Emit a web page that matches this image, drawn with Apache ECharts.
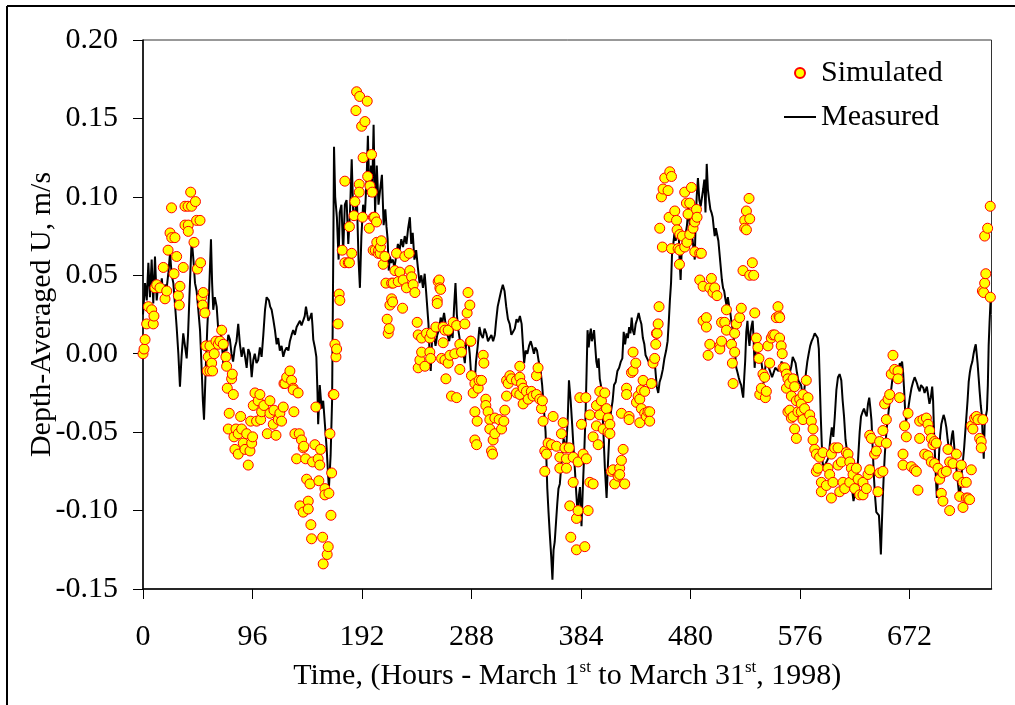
<!DOCTYPE html>
<html><head><meta charset="utf-8">
<script src="https://cdn.jsdelivr.net/npm/echarts@6/dist/echarts.min.js"></script>
<style>html,body{margin:0;padding:0;background:#fff}#c{width:1015px;height:705px}</style>
</head><body><div id="c"></div>
<script>
const xTicks = [0, 96, 192, 288, 384, 480, 576, 672];
const yRange = [-0.15, 0.20];
const xRange = [0, 744];

// Measured depth-averaged U [hour, m/s]
const measured = [
[0,0.025],[1.8,0.045],[3.3,0.034],[4.7,0.058],[6.1,0.036],[7.6,0.060],[9.0,0.032],[10.5,0.062],[12.0,0.034],[13.5,0.045],
[14.9,0.040],[16.5,0.048],[17.8,0.036],[19.3,0.044],[20.8,0.042],[22.3,0.052],[23.7,0.064],[25.2,0.050],[26.6,0.045],[28.0,0.032],
[29.5,0.017],[31.0,0.000],[32.4,-0.021],[33.8,-0.002],[35.3,0.013],[36.8,0.005],[38.3,-0.003],[39.5,0.012],[40.6,0.034],[41.7,0.055],
[42.7,0.073],[44.2,0.060],[45.6,0.045],[47.0,0.040],[48.5,0.028],[50.0,0.015],[51.4,-0.009],[52.5,-0.030],[53.5,-0.042],[55.0,-0.010],
[56.4,0.017],[58.0,0.040],[59.6,0.073],[60.6,0.045],[61.6,0.028],[63.0,0.036],[64.6,0.030],[66.0,0.015],[67.5,0.018],[69.0,0.008],
[70.4,-0.006],[71.8,0.004],[73.3,0.002],[74.8,0.012],[76.2,0.009],[77.6,0.000],[79.0,-0.005],[80.5,0.004],[82.0,0.008],[83.5,0.019],
[85.0,0.006],[86.5,-0.002],[88.0,0.004],[89.5,-0.002],[90.9,-0.009],[92.3,0.003],[93.8,0.000],[95.3,-0.015],[96.7,-0.004],[98.0,0.000],
[99.5,-0.006],[101.0,-0.004],[102.5,0.004],[104.0,-0.002],[105.5,0.012],[107.0,0.028],[108.4,0.036],[110.4,0.034],[111.5,0.030],[112.8,0.028],
[114.2,0.022],[115.7,0.015],[117.2,0.006],[118.5,0.010],[120.0,0.002],[121.5,0.005],[123.0,-0.002],[124.5,0.002],[126.0,0.004],[127.5,0.002],
[128.8,0.008],[130.3,0.012],[131.7,0.015],[133.2,0.012],[134.7,0.017],[136.2,0.016],[137.6,0.021],[139.0,0.018],[140.5,0.019],[141.8,0.024],
[142.9,0.030],[144.0,0.025],[145.0,0.021],[146.5,0.023],[147.8,0.026],[148.6,0.018],[149.3,0.009],[150.7,0.004],[152.0,-0.002],[153.0,-0.025],
[153.6,-0.045],[155.0,-0.020],[156.6,-0.035],[158.0,-0.030],[159.5,-0.045],[161.0,-0.060],[163.0,-0.086],[164.5,-0.065],[165.8,-0.030],[166.8,0.060],
[167.5,0.132],[168.5,0.100],[170.0,0.087],[171.5,0.060],[172.5,0.090],[174.0,0.095],[175.5,0.065],[177.0,0.095],[178.5,0.098],[180.0,0.070],
[181.5,0.090],[183.0,0.124],[184.5,0.085],[186.0,0.090],[187.5,0.100],[189.0,0.060],[190.2,0.042],[191.5,0.075],[193.0,0.095],[194.5,0.088],
[196.0,0.110],[197.2,0.139],[198.5,0.100],[200.0,0.120],[201.0,0.105],[202.2,0.146],[203.5,0.090],[205.0,0.120],[206.5,0.095],[208.0,0.105],
[209.5,0.114],[211.0,0.082],[212.5,0.092],[213.5,0.081],[214.5,0.073],[215.5,0.053],[216.5,0.062],[217.5,0.058],[219.0,0.060],[220.5,0.055],
[222.0,0.062],[223.5,0.070],[225.0,0.066],[226.5,0.073],[228.0,0.068],[229.5,0.075],[231.0,0.070],[232.5,0.080],[234.0,0.087],[235.2,0.070],
[236.5,0.077],[238.0,0.060],[239.5,0.066],[241.0,0.055],[242.5,0.045],[244.0,0.050],[245.5,0.042],[247.0,0.051],[248.2,0.040],[249.2,0.030],
[250.3,0.019],[251.3,0.000],[252.3,-0.011],[253.5,0.010],[255.0,0.012],[256.5,0.005],[258.0,0.012],[259.5,0.015],[261.0,0.023],[262.5,0.020],
[264.0,0.026],[265.5,0.018],[267.0,0.012],[268.5,0.008],[270.0,0.015],[271.5,0.010],[272.8,0.030],[274.0,0.045],[275.2,0.025],[276.5,0.015],
[278.0,0.008],[279.5,0.005],[281.0,0.000],[282.2,-0.006],[283.5,0.008],[285.0,0.010],[286.5,0.000],[287.5,-0.011],[289.0,-0.015],[290.5,-0.022],
[292.0,-0.005],[293.5,0.005],[295.0,0.017],[296.5,0.012],[298.0,0.010],[299.5,0.016],[301.0,0.013],[302.5,0.008],[304.0,0.010],[305.5,0.012],
[307.0,0.008],[308.5,0.012],[309.5,0.020],[311.0,0.030],[312.5,0.035],[314.0,0.040],[315.5,0.044],[317.0,0.040],[318.5,0.030],[320.0,0.022],
[321.5,0.019],[323.0,0.012],[324.5,0.014],[326.0,0.016],[327.5,0.022],[329.0,0.020],[330.5,0.024],[332.0,0.019],[333.2,0.005],[334.2,-0.006],
[335.5,0.002],[337.0,0.000],[338.5,0.005],[340.0,0.008],[341.5,0.004],[342.8,0.000],[344.0,0.004],[345.5,0.002],[347.0,-0.005],[348.5,-0.010],
[350.0,-0.020],[350.8,-0.028],[352.0,-0.040],[353.0,-0.050],[354.5,-0.086],[355.5,-0.100],[356.7,-0.115],[358.0,-0.130],[359.0,-0.144],[360.0,-0.125],
[361.0,-0.120],[362.2,-0.107],[363.3,-0.095],[364.3,-0.086],[365.5,-0.083],[366.6,-0.082],[368.0,-0.060],[368.8,-0.054],[370.0,-0.058],[371.0,-0.062],
[372.5,-0.040],[373.5,-0.017],[375.0,-0.030],[376.3,-0.045],[377.5,-0.060],[378.8,-0.075],[380.0,-0.090],[381.2,-0.103],[382.3,-0.090],[383.2,-0.085],
[384.5,-0.110],[385.7,-0.085],[386.8,-0.065],[388.0,-0.040],[389.0,-0.010],[389.8,0.015],[390.8,0.004],[391.8,0.012],[392.7,0.016],[393.5,0.008],
[394.3,0.010],[395.5,0.015],[396.5,0.005],[397.5,-0.005],[398.5,-0.009],[399.5,-0.003],[400.5,-0.016],[401.5,-0.020],[402.5,-0.030],[403.7,-0.050],
[405.0,-0.073],[406.5,-0.092],[407.7,-0.070],[409.0,-0.050],[410.3,-0.037],[411.8,-0.030],[413.0,-0.020],[414.5,-0.018],[416.0,-0.011],[417.5,-0.009],
[419.0,-0.005],[420.3,-0.003],[421.5,0.014],[422.7,0.006],[424.0,0.013],[425.2,0.010],[426.3,0.017],[427.4,0.013],[428.5,0.023],[429.5,0.015],
[430.7,0.012],[432.0,0.019],[433.3,0.022],[434.6,0.026],[435.8,0.022],[437.0,0.019],[438.3,0.010],[439.6,0.006],[440.7,-0.001],[442.0,-0.003],
[443.3,-0.005],[444.6,-0.004],[446.0,-0.006],[447.5,-0.005],[449.0,-0.008],[450.5,-0.021],[451.8,-0.025],[453.0,-0.018],[454.3,-0.015],[455.8,-0.010],
[457.2,-0.003],[458.7,0.002],[460.0,0.008],[461.0,0.020],[462.0,0.034],[463.0,0.045],[464.0,0.066],[465.0,0.070],[466.0,0.077],[467.0,0.072],
[468.0,0.075],[469.3,0.087],[470.5,0.060],[471.4,0.047],[472.3,0.065],[473.3,0.072],[474.5,0.068],[475.6,0.075],[477.0,0.082],[478.3,0.094],
[479.6,0.080],[480.8,0.077],[482.0,0.072],[483.0,0.065],[483.8,0.060],[484.6,0.085],[485.5,0.100],[486.6,0.112],[487.8,0.098],[489.0,0.094],
[490.0,0.095],[491.2,0.105],[492.2,0.111],[493.2,0.090],[494.3,0.121],[495.3,0.105],[496.4,0.098],[497.5,0.092],[498.5,0.090],[499.5,0.087],
[500.5,0.080],[501.3,0.075],[502.3,0.080],[503.4,0.081],[504.5,0.072],[505.5,0.064],[506.6,0.055],[507.6,0.047],[508.6,0.042],[509.6,0.040],
[510.6,0.035],[511.6,0.031],[512.8,0.036],[514.0,0.030],[515.0,0.026],[516.0,0.020],[517.2,0.015],[518.2,0.008],[519.2,0.000],[520.2,-0.009],
[521.3,-0.012],[522.3,-0.015],[523.4,-0.018],[524.5,-0.020],[525.5,-0.025],[526.3,-0.028],[527.2,-0.015],[528.0,-0.005],[529.0,0.014],[530.0,0.021],
[531.0,0.010],[531.8,0.005],[532.8,0.014],[533.7,0.018],[534.6,0.021],[535.5,0.008],[536.3,-0.009],[537.2,0.000],[538.0,0.005],[539.0,0.002],
[540.0,-0.002],[541.2,-0.004],[542.4,-0.006],[543.4,-0.012],[544.3,-0.019],[545.2,-0.012],[546.2,-0.005],[547.4,-0.006],[548.8,-0.009],[550.2,-0.010],
[551.6,-0.015],[553.0,-0.012],[554.4,-0.009],[555.8,-0.008],[557.2,-0.011],[558.6,-0.009],[560.0,-0.005],[561.3,-0.008],[562.5,-0.012],[563.6,-0.016],
[564.8,-0.020],[566.0,-0.015],[567.2,-0.012],[568.5,-0.008],[569.7,-0.002],[571.0,-0.003],[572.2,-0.006],[573.4,-0.012],[574.6,-0.017],[575.8,-0.018],
[577.0,-0.020],[578.2,-0.025],[579.3,-0.027],[580.3,-0.020],[581.3,-0.012],[582.5,-0.005],[583.7,0.000],[585.0,0.005],[586.3,0.008],[587.5,0.010],
[589.0,0.013],[590.5,0.0135],[591.6,0.010],[592.6,0.003],[593.5,-0.020],[594.3,-0.040],[595.2,-0.058],[596.0,-0.070],[597.2,-0.072],[598.5,-0.071],
[600.0,-0.068],[601.2,-0.066],[602.6,-0.055],[604.0,-0.047],[605.3,-0.053],[606.6,-0.040],[608.0,-0.023],[609.4,-0.015],[610.8,-0.013],[612.3,-0.017],
[613.5,-0.030],[614.7,-0.040],[616.0,-0.055],[617.3,-0.062],[618.6,-0.070],[620.0,-0.077],[621.5,-0.085],[623.0,-0.094],[624.5,-0.088],[626.0,-0.080],
[627.2,-0.065],[628.4,-0.050],[629.6,-0.040],[631.0,-0.037],[632.2,-0.035],[633.4,-0.038],[634.6,-0.040],[635.7,-0.032],[636.8,-0.028],[637.8,-0.035],
[638.8,-0.043],[639.8,-0.060],[640.8,-0.077],[641.8,-0.090],[643.0,-0.101],[644.2,-0.100],[645.3,-0.103],[646.2,-0.115],[647.0,-0.128],[647.8,-0.110],
[648.6,-0.093],[649.5,-0.078],[650.4,-0.065],[651.3,-0.055],[652.2,-0.047],[653.3,-0.040],[654.5,-0.032],[655.7,-0.025],[657.0,-0.017],[658.3,-0.013],
[659.5,-0.011],[660.6,-0.015],[661.6,-0.017],[662.6,-0.010],[663.6,-0.006],[664.6,-0.008],[665.6,-0.005],[666.5,-0.012],[667.3,-0.022],[668.2,-0.035],
[669.1,-0.043],[670.0,-0.040],[671.0,-0.035],[672.4,-0.028],[673.8,-0.022],[675.2,-0.018],[676.6,-0.015],[677.7,-0.017],[678.7,-0.019],[679.8,-0.022],
[681.0,-0.024],[682.2,-0.020],[683.3,-0.019],[684.3,-0.022],[685.3,-0.025],[686.3,-0.023],[687.3,-0.021],[688.4,-0.026],[689.6,-0.032],[690.8,-0.028],
[692.0,-0.021],[692.8,-0.030],[693.6,-0.050],[694.4,-0.064],[695.3,-0.080],[696.1,-0.092],[697.0,-0.080],[698.0,-0.064],[699.0,-0.052],[700.0,-0.045],
[701.0,-0.042],[702.0,-0.039],[703.2,-0.042],[704.4,-0.047],[705.6,-0.055],[706.6,-0.060],[707.4,-0.064],[708.4,-0.058],[709.3,-0.052],[710.2,-0.049],
[711.2,-0.058],[712.2,-0.068],[713.2,-0.073],[714.2,-0.080],[715.2,-0.087],[716.0,-0.092],[717.0,-0.085],[718.0,-0.075],[719.0,-0.068],[720.0,-0.060],
[721.0,-0.050],[722.0,-0.040],[723.0,-0.030],[724.0,-0.018],[725.0,-0.012],[726.0,-0.008],[727.2,-0.005],[728.3,0.000],[729.4,0.004],[730.2,0.006],
[731.0,0.000],[731.8,-0.006],[732.7,-0.015],[733.6,-0.024],[734.6,-0.033],[735.5,-0.039],[736.4,-0.055],[737.2,-0.067],[738.0,-0.045],[739.0,-0.040],
[740.0,-0.036],[740.8,-0.020],[741.5,0.005],[742.3,0.020],[743.2,0.034],[744.0,0.035]
];

// Simulated depth-averaged U [hour, m/s]
const simulated = [
[0,0.000],[0.9,0.003],[1.8,0.009],[3.2,0.019],[4.7,0.030],[7.6,0.028],[9.0,0.019],[9.6,0.024],[10.5,0.042],[12,0.044],
[14.9,0.042],[17.8,0.055],[19.3,0.035],[20.8,0.040],[22,0.066],[23.7,0.077],[25,0.093],[25.2,0.074],[27.2,0.051],[28,0.074],
[29.5,0.062],[31,0.037],[31.8,0.031],[32.4,0.043],[35.3,0.055],[36.8,0.094],[36.8,0.082],[39.5,0.094],[39.7,0.082],[39.7,0.078],
[41.8,0.103],[42.6,0.094],[44.7,0.071],[46,0.097],[47,0.085],[47.6,0.054],[50,0.085],[50.5,0.058],[51.4,0.036],[52.3,0.031],
[52.8,0.039],[54.3,0.026],[55.2,0.005],[56.4,-0.011],[57.2,-0.002],[58.7,0.005],[58.7,-0.011],[60.2,-0.006],[61,-0.011],[62.5,0.000],
[64,0.008],[66,0.006],[67.5,0.008],[69,0.015],[70.4,0.006],[72.7,-0.002],[73.3,-0.008],[73.9,-0.022],[74.8,-0.048],[75.6,-0.038],
[77.7,-0.016],[78.3,-0.013],[79.2,-0.026],[79.8,-0.053],[80.6,-0.061],[81.5,-0.048],[83.5,-0.051],[83.5,-0.064],[85.6,-0.040],[86.5,-0.048],
[87.9,-0.057],[89.4,-0.061],[90.9,-0.051],[92.3,-0.071],[93.8,-0.062],[94.4,-0.043],[95.3,-0.057],[96.1,-0.053],[96.7,-0.033],[98.2,-0.025],
[99.6,-0.043],[101,-0.030],[102.5,-0.026],[103.2,-0.042],[104,-0.037],[106,-0.033],[109,-0.051],[111.3,-0.030],[111.3,-0.038],[114.2,-0.045],
[114.8,-0.036],[116.6,-0.052],[118.6,-0.042],[120,-0.038],[121.5,-0.043],[123,-0.034],[123.6,-0.019],[124.5,-0.019],[126,-0.015],[128.8,-0.011],
[130.3,-0.017],[131.7,-0.022],[131.7,-0.023],[132.3,-0.037],[133.2,-0.051],[134.7,-0.067],[136,-0.025],[137,-0.051],[137.6,-0.097],[139,-0.055],
[140.5,-0.060],[140.5,-0.101],[141,-0.059],[142.6,-0.067],[143.5,-0.080],[144.9,-0.094],[144.9,-0.099],[146.4,-0.083],[147.2,-0.109],[147.8,-0.118],
[148.7,-0.069],[150.7,-0.058],[151.6,-0.034],[153.6,-0.067],[154.2,-0.081],[155,-0.071],[155.7,-0.061],[157.5,-0.117],[158,-0.134],[159.5,-0.086],
[159.5,-0.090],[161.5,-0.128],[162.4,-0.123],[163,-0.089],[163.9,-0.051],[164.8,-0.103],[165.4,-0.076],[166.8,-0.026],[167.4,-0.026],[168.3,0.006],
[169.2,-0.002],[169.8,0.003],[171,0.019],[172,0.038],[172.6,0.034],[174.7,0.066],[177,0.058],[177,0.110],[180,0.058],[181,0.058],
[181,0.081],[183,0.064],[185,0.088],[185.8,0.097],[186.7,0.155],[187.3,0.167],[189.6,0.108],[189.6,0.103],[190,0.164],[191.7,0.145],
[192.5,0.087],[193,0.125],[194.6,0.148],[196.6,0.161],[197,0.113],[198.4,0.080],[199,0.107],[200.4,0.127],[201,0.103],[201.8,0.066],
[202,0.087],[203,0.087],[203.6,0.066],[204.8,0.084],[205,0.071],[206.2,0.064],[206.6,0.066],[208,0.064],[208.2,0.068],[209,0.072],
[210.6,0.057],[212.1,0.062],[213,0.045],[214.1,0.022],[215,0.013],[215.9,0.016],[216.5,0.031],[218,0.045],[218,0.035],[218.9,0.033],
[219.4,0.045],[220.9,0.053],[222.3,0.064],[223.8,0.046],[225.2,0.052],[227.6,0.029],[228.1,0.047],[229.6,0.062],[231,0.042],[233.4,0.064],
[234,0.053],[235.5,0.049],[236.9,0.044],[238.4,0.039],[240.4,0.020],[241.3,0.012],[241.3,-0.009],[242.8,-0.004],[244.3,0.010],[244.3,0.001],
[247.2,-0.008],[248.6,0.013],[251.5,0.010],[251.5,0.001],[252.2,-0.003],[253,0.013],[256.8,0.017],[258,0.034],[258,0.032],[258.8,0.046],
[259.7,0.047],[260.3,0.042],[261,0.041],[261.8,-0.003],[263.2,0.017],[263.2,0.007],[264.7,0.015],[264.7,-0.004],[265.6,-0.016],[267.6,0.015],
[267.6,-0.006],[269.1,-0.001],[270.5,-0.027],[272,0.020],[273.4,0.000],[275,0.018],[275,-0.028],[277.8,0.006],[277.8,-0.010],[279.3,0.001],
[282.2,0.019],[284.2,0.026],[285,0.039],[286.6,0.031],[287.2,0.008],[287.5,0.008],[288,-0.014],[289.5,-0.025],[291,-0.019],[291,-0.037],
[291,-0.055],[292.5,-0.058],[293,-0.043],[293.9,-0.022],[294.7,-0.017],[296.8,-0.017],[298.3,-0.001],[298.9,-0.006],[300.6,-0.029],[300.6,-0.033],
[302.6,-0.037],[304.1,-0.042],[304.1,-0.048],[305.6,-0.062],[306.5,-0.064],[307,-0.055],[308.5,-0.041],[308.5,-0.051],[312.3,-0.042],[314.4,-0.048],
[316.4,-0.043],[317.3,-0.036],[318.8,-0.017],[318.8,-0.027],[320.2,-0.019],[321.7,-0.014],[323.1,-0.016],[327.5,-0.017],[327.5,-0.025],[330.4,-0.015],
[330.4,-0.026],[330.4,-0.008],[331.9,-0.019],[333.3,-0.022],[333.3,-0.032],[336.2,-0.024],[337.7,-0.029],[340.5,-0.024],[342,-0.027],[345,-0.026],
[345,-0.014],[346.4,-0.009],[347.9,-0.029],[349.4,-0.035],[350.2,-0.030],[350.8,-0.043],[352.3,-0.062],[352.3,-0.075],[353.8,-0.064],[355.2,-0.057],
[358.2,-0.058],[359.6,-0.040],[362.6,-0.059],[365.5,-0.066],[365.5,-0.073],[366.9,-0.051],[368.4,-0.044],[369.9,-0.060],[371.3,-0.067],[371.3,-0.073],
[373.7,-0.060],[374.2,-0.097],[375.1,-0.117],[377.2,-0.066],[377.2,-0.082],[380.1,-0.105],[380.1,-0.125],[381.5,-0.069],[381.5,-0.100],[383,-0.028],
[384.5,-0.045],[385.9,-0.064],[387.4,-0.123],[388.3,-0.028],[388.8,-0.067],[390.3,-0.100],[391.8,-0.082],[391.8,-0.039],[394.7,-0.083],[394.7,-0.053],
[397.6,-0.033],[397.6,-0.046],[399.1,-0.058],[400.5,-0.039],[400.5,-0.024],[402,-0.030],[403.5,-0.048],[404.9,-0.025],[406.4,-0.035],[407.8,-0.041],
[407.8,-0.050],[409.4,-0.045],[409.4,-0.051],[410.7,-0.075],[412.2,-0.074],[413.6,-0.083],[416.6,-0.078],[418,-0.073],[418,-0.077],[419.5,-0.068],
[419.5,-0.038],[421,-0.061],[422.4,-0.083],[424,-0.022],[424,-0.026],[426.2,-0.040],[426.2,-0.042],[428.3,-0.012],[429.7,0.001],[429.7,-0.011],
[432.1,-0.006],[432.7,-0.031],[434.1,-0.027],[435.6,-0.029],[435.6,-0.044],[437,-0.023],[437,-0.035],[438.5,-0.017],[439.9,-0.024],[439.9,-0.038],
[441.4,-0.040],[442.8,-0.037],[444.3,-0.037],[444.3,-0.043],[445.8,-0.019],[447.2,-0.006],[448.7,-0.003],[449.6,0.006],[450.2,0.013],[450.8,0.013],
[451.7,0.019],[452.5,0.030],[453.1,0.080],[454.6,0.100],[455.4,0.068],[456,0.105],[457.5,0.112],[460.4,0.104],[461.3,0.087],[461.9,0.116],
[463.4,0.113],[463.4,0.067],[466.3,0.091],[467.8,0.085],[468.3,0.079],[469.2,0.067],[470.4,0.057],[470.7,0.076],[470.7,0.066],[473,0.075],
[475,0.103],[475,0.068],[476.5,0.096],[477,0.071],[477.9,0.089],[479.4,0.096],[479.4,0.076],[480.9,0.106],[482.3,0.080],[483.8,0.084],
[483.8,0.065],[485.3,0.092],[485.8,0.087],[488.2,0.064],[488.2,0.047],[489.6,0.064],[491.1,0.043],[491.1,0.021],[494,0.023],[494,0.017],
[495.5,-0.001],[497,0.006],[497,0.042],[498.4,0.048],[499.8,0.039],[501.3,0.042],[503.3,0.037],[505.8,0.005],[505.8,0.003],[507.3,0.008],
[507.3,0.020],[510.1,0.020],[511.6,0.028],[511.6,0.015],[516,0.006],[516.8,-0.006],[517.4,-0.019],[518.8,0.001],[518.8,0.013],[520.3,0.019],
[523.2,0.023],[524.6,0.029],[526.1,0.053],[527.6,0.085],[527.6,0.080],[529.1,0.091],[529.1,0.079],[531.4,0.099],[532,0.086],[532,0.050],
[534.3,0.058],[535.5,0.050],[536.4,0.026],[537.8,0.010],[539.2,0.004],[540.1,-0.003],[540.8,-0.026],[542.2,-0.022],[543.6,-0.013],[545.1,-0.015],
[545.7,-0.028],[546.6,-0.024],[548,0.005],[549.5,-0.006],[550.9,0.010],[552.3,0.012],[553.9,0.012],[555.3,0.023],[556.8,0.030],[557.7,0.024],
[558.2,0.010],[558.3,0.023],[559.6,0.005],[560.5,0.000],[561.2,-0.009],[562.7,-0.009],[564.2,-0.013],[564.2,-0.022],[565.5,-0.016],[565.5,-0.037],
[567,-0.019],[567.1,-0.036],[568.5,-0.027],[568.5,-0.041],[570,-0.016],[570,-0.040],[571.4,-0.021],[571.4,-0.048],[572.9,-0.030],[572.9,-0.054],
[574.3,-0.037],[575.8,-0.029],[577.2,-0.032],[577.2,-0.037],[578.7,-0.026],[578.7,-0.042],[580.1,-0.035],[581.6,-0.017],[583.1,-0.028],[584.6,-0.039],
[586,-0.043],[587.5,-0.048],[587.5,-0.055],[589,-0.061],[590.4,-0.064],[590.4,-0.075],[591.9,-0.073],[593.3,-0.066],[594.8,-0.082],[594.8,-0.088],
[596.2,-0.063],[599.2,-0.084],[600.6,-0.073],[602.1,-0.077],[603.6,-0.064],[603.6,-0.092],[605,-0.082],[606.5,-0.060],[609.4,-0.060],[609.4,-0.071],
[610.9,-0.088],[612.4,-0.069],[613.8,-0.082],[615.3,-0.086],[616.7,-0.063],[618.2,-0.064],[619.7,-0.069],[619.7,-0.082],[621.1,-0.073],[622.6,-0.077],
[624,-0.086],[625.5,-0.073],[627,-0.080],[628.4,-0.090],[631.3,-0.090],[631.3,-0.082],[634.3,-0.086],[635.7,-0.077],[637.2,-0.074],[637.2,-0.052],
[638.7,-0.054],[641.5,-0.064],[643,-0.062],[644.4,-0.088],[645.9,-0.056],[645.9,-0.076],[648.8,-0.075],[648.8,-0.049],[650.3,-0.032],[651.8,-0.042],
[651.8,-0.057],[653.3,-0.029],[654.7,-0.026],[656.1,-0.013],[657.6,-0.001],[659.1,-0.010],[662,-0.011],[662,-0.016],[663.4,-0.028],[666.4,-0.064],
[666.4,-0.071],[667.8,-0.046],[669.3,-0.053],[670.8,-0.038],[673.7,-0.072],[676.6,-0.074],[678.1,-0.075],[679.5,-0.087],[681,-0.054],[681,-0.043],
[683.9,-0.042],[685.4,-0.064],[686.9,-0.041],[688.3,-0.045],[688.3,-0.065],[689.7,-0.049],[691.2,-0.054],[691.2,-0.069],[692.7,-0.058],[694.1,-0.056],
[694.1,-0.070],[695.6,-0.057],[697.1,-0.073],[698.5,-0.080],[700,-0.089],[701.4,-0.076],[701.4,-0.094],[704.4,-0.075],[705.8,-0.061],[707.3,-0.069],
[707.3,-0.100],[710.2,-0.070],[713.2,-0.064],[714.6,-0.078],[716.1,-0.091],[717.5,-0.071],[719,-0.082],[719,-0.098],[721.9,-0.082],[721.9,-0.092],
[723.4,-0.092],[724.8,-0.093],[726.3,-0.074],[726.3,-0.046],[727.7,-0.048],[729.2,-0.041],[730.7,-0.040],[732.1,-0.042],[733.6,-0.054],[735,-0.056],
[735,-0.060],[736.4,-0.042],[736,0.040],[737.1,0.039],[738,0.045],[738,0.075],[739,0.051],[740.6,0.080],[742.9,0.094],[743,0.036]
];

const FONT = 'Liberation Serif';
const chart = echarts.init(document.getElementById('c'), null, {renderer: 'canvas'});
chart.setOption({
  animation: false,
  backgroundColor: '#fff',
  graphic: [
    {type: 'line', shape: {x1: 7, y1: 6, x2: 1015, y2: 6}, style: {stroke: '#000', lineWidth: 2}},
    {type: 'line', shape: {x1: 7, y1: 6, x2: 7, y2: 705}, style: {stroke: '#000', lineWidth: 2}}
  ],
  grid: {left: 143, right: 23.5, top: 40, bottom: 116, show: true, borderColor: '#333', borderWidth: 1, backgroundColor: 'transparent'},
  legend: {
    orient: 'vertical', left: 783, top: 58, padding: 0, itemWidth: 32, itemHeight: 10, itemGap: 14,
    textStyle: {fontFamily: FONT, fontSize: 30, color: '#000', lineHeight: 30},
    data: [
      {name: 'Simulated', icon: 'circle'},
      {name: 'Measured', itemStyle: {opacity: 0}, lineStyle: {color: '#000', width: 2}}
    ]
  },
  xAxis: {
    type: 'value', min: xRange[0], max: xRange[1], interval: 96,
    splitLine: {show: false},
    axisLine: {onZero: false, lineStyle: {color: '#000', width: 1.5}},
    axisTick: {inside: false, length: 10, lineStyle: {color: '#000', width: 1}, customValues: xTicks},
    axisLabel: {fontFamily: FONT, fontSize: 30, color: '#000', margin: 33, customValues: xTicks},
    name: 'Time, (Hours - March 1{sup|st} to March 31{sup|st}, 1998)',
    nameLocation: 'middle', nameGap: 70,
    nameTextStyle: {fontFamily: FONT, fontSize: 30, color: '#000', lineHeight: 34,
      rich: {sup: {fontFamily: FONT, fontSize: 17, color: '#000', verticalAlign: 'top', lineHeight: 20}}}
  },
  yAxis: {
    type: 'value', min: yRange[0], max: yRange[1], interval: 0.05,
    splitLine: {show: false},
    axisLine: {onZero: false, lineStyle: {color: '#000', width: 1.5}},
    axisTick: {inside: false, length: 10, lineStyle: {color: '#000', width: 1}},
    axisLabel: {fontFamily: FONT, fontSize: 30, color: '#000', margin: 25, formatter: v => v.toFixed(2)},
    name: 'Depth-Averaged U, m/s', nameLocation: 'middle', nameGap: 86, nameMoveOverlap: false,
    nameTextStyle: {fontFamily: FONT, fontSize: 30, color: '#000'}
  },
  series: [
    {
      name: 'Measured', type: 'line', data: measured, showSymbol: false, symbol: 'none',
      lineStyle: {color: '#000', width: 2}, itemStyle: {color: '#000'}, z: 2
    },
    {
      name: 'Simulated', type: 'scatter', data: simulated, symbol: 'circle', symbolSize: 10,
      itemStyle: {color: '#FFFF00', borderColor: '#FF0000', borderWidth: 1, opacity: 1}, z: 3
    }
  ]
});
</script>
</body></html>
